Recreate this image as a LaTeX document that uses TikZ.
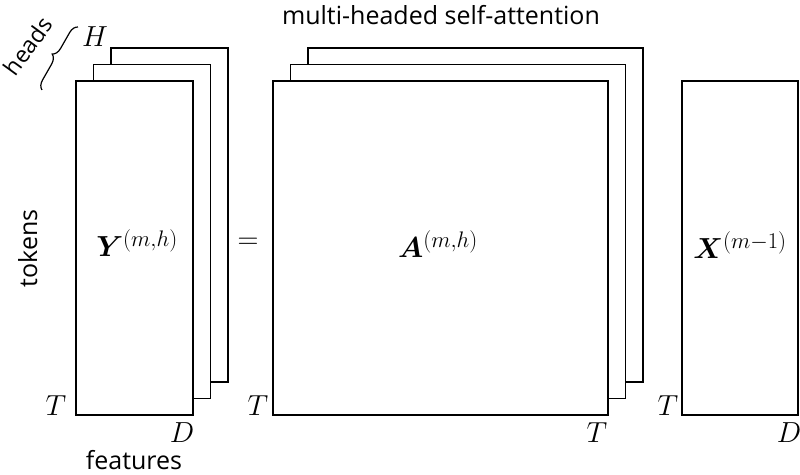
\RequirePackage{fix-cm}
\documentclass[tikz,border=0pt]{standalone}
\usepackage{fontspec}
\usepackage{amsmath,bm}
\setmainfont{Open Sans}
\DeclareMathSizes{29}{29}{22.5}{18}
\usetikzlibrary{decorations.pathreplacing}
\begin{document}
\begin{tikzpicture}[x=1pt,y=1pt,
  sheet/.style={draw=black,fill=white,line width=1.7pt},
  mathlbl/.style={inner sep=0pt,font=\fontsize{29}{33}\selectfont},
  txtlbl/.style={inner sep=0pt,font=\fontsize{25}{29}\selectfont}]
\useasboundingbox (0,0) rectangle (800,474);
% Y stack
\draw[sheet] (111,92) rectangle (228,426);
\draw[sheet] (93.5,75.5) rectangle (210.5,409.5);
\draw[sheet] (76,59) rectangle (193,393);
% A stack
\draw[sheet] (308,92) rectangle (643,426);
\draw[sheet] (290.5,75.5) rectangle (625.5,409.5);
\draw[sheet] (273,59) rectangle (608,393);
% X
\draw[sheet] (682,59) rectangle (798,393);
% labels
\node[mathlbl] (ylbl) at (137,231) {$\bm{Y}^{(m,h)}$};
\node[mathlbl] (albl) at (438,230) {$\bm{A}^{(m,h)}$};
\node[mathlbl] (xlbl) at (740,229) {$\bm{X}^{(m-1)}$};
\node[mathlbl] (eq) at (248,231) {$=$};
\node[mathlbl] (H) at (95,437) {$H$};
\node[mathlbl] (T1) at (56,68) {$T$};
\node[mathlbl] (D1) at (182,41) {$D$};
\node[mathlbl] (T2) at (258,68) {$T$};
\node[mathlbl] (T3) at (597,41) {$T$};
\node[mathlbl] (T4) at (668,68) {$T$};
\node[mathlbl] (D2) at (789,41) {$D$};
\node[txtlbl,anchor=base] (title) at (441,449) {multi-headed self-attention};
\node[txtlbl,anchor=base] (feat) at (134,4.5) {features};
\node[txtlbl,rotate=90,anchor=base] (tok) at (37,225.5) {tokens};
\node[inner sep=0pt,font=\fontsize{23}{27}\selectfont,rotate=54,anchor=base] (heads) at (35,423) {heads};
\coordinate (b1) at (42,384);
\coordinate (b2) at (78,447);
\draw[line width=1.2pt,decorate,decoration={brace,amplitude=9pt}] (b1) -- (b2);
\end{tikzpicture}
\end{document}
